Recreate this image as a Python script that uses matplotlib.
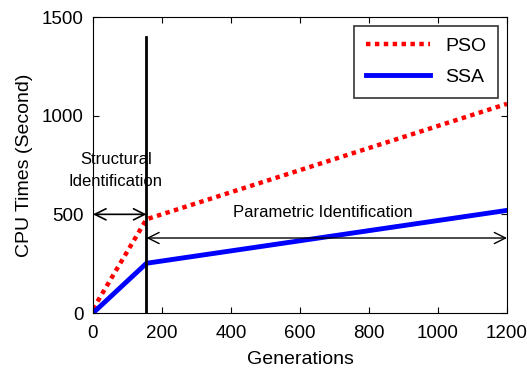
import matplotlib.pyplot as plt
import numpy as np

# donnees
gen = [0, 155, 1200]
pso = [20, 475, 1060]
ssa = [0, 252, 520]
split_gen = 155
split_top = 1400
struct_y = 500
param_y = 380

plt.rcParams['font.family'] = ['Liberation Sans', 'DejaVu Sans']

fig = plt.figure(figsize=(5.27, 3.79), dpi=100)
ax = fig.add_axes([93/527, 1-313/379, 414/527, 296/379])

ax.plot(gen, pso, color='red', linestyle=(0, (1, 1)), linewidth=3.2, label='PSO')
ax.plot(gen, ssa, color='blue', linewidth=3.5, label='SSA')
ax.plot([split_gen, split_gen], [0, split_top], color='black', linewidth=2)

# fleches
ax.annotate('', xy=(0, struct_y), xytext=(split_gen, struct_y),
            arrowprops=dict(arrowstyle='<->', color='black', lw=1.2, mutation_scale=20,
                            shrinkA=0, shrinkB=0))
ax.annotate('', xy=(split_gen, param_y), xytext=(1200, param_y),
            arrowprops=dict(arrowstyle='<->', color='black', lw=1, mutation_scale=20,
                            shrinkA=0, shrinkB=0))
ax.text(66, 780, 'Structural', ha='center', va='center', fontsize=12)
ax.text(66, 665, 'Identification', ha='center', va='center', fontsize=12)
ax.text(667, 510, 'Parametric Identification', ha='center', va='center', fontsize=12)

ax.set_xlim(0, 1200)
ax.set_ylim(0, 1500)
ax.set_xticks(np.arange(0, 1201, 200))
ax.set_yticks([0, 500, 1000, 1500])
ax.tick_params(direction='in', top=True, right=True, labelsize=13.5, length=4)
ax.tick_params(axis='x', pad=9)
ax.tick_params(axis='y', pad=7)
ax.set_xlabel('Generations', fontsize=14, labelpad=6)
ax.set_ylabel('CPU Times (Second)', fontsize=14, labelpad=6)

leg = ax.legend(loc='upper right', fontsize=14, fancybox=False, edgecolor='black',
                handlelength=3.3, labelspacing=0.7, borderpad=0.6,
                borderaxespad=0.45)
leg.get_frame().set_linewidth(1.2)

fig.savefig('out.png', dpi=100)
